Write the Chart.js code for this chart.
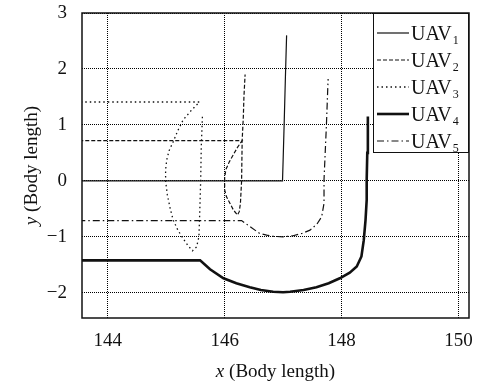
<!DOCTYPE html>
<html>
<head>
<meta charset="utf-8">
<script src="https://cdn.jsdelivr.net/npm/chart.js@4/dist/chart.umd.min.js"></script>
<style>
  html, body { margin: 0; padding: 0; background: #fff; }
  #wrap { width: 477px; height: 385px; }
</style>
</head>
<body>
<div id="wrap"><canvas id="c" width="477" height="385"></canvas></div>
<script>
// Trajectories of five UAVs (positions in body lengths)
const seriesNames = ['UAV', 'UAV', 'UAV', 'UAV', 'UAV'];
const seriesSubs = ['1', '2', '3', '4', '5'];

const uav1X = [143.0, 146.99, 147.0, 147.02, 147.04, 147.06];
const uav1Y = [0, 0, 0.35, 1.09, 1.87, 2.6];

const uav2X = [143.0, 146.30, 146.22, 146.15, 146.08, 146.02, 146.0, 146.0, 146.03, 146.09, 146.15, 146.22, 146.25, 146.27, 146.28, 146.29, 146.30, 146.32, 146.33, 146.35];
const uav2Y = [0.72, 0.72, 0.60, 0.47, 0.34, 0.20, 0.05, -0.16, -0.28, -0.40, -0.52, -0.61, -0.55, -0.40, -0.20, 0, 0.73, 1.15, 1.5, 1.9];

const uav3X = [143.0, 145.57, 145.43, 145.29, 145.20, 145.12, 145.05, 145.01, 144.99, 144.99, 145.02, 145.07, 145.12, 145.20, 145.29, 145.37, 145.45, 145.52, 145.56, 145.57, 145.59, 145.60, 145.62];
const uav3Y = [1.41, 1.41, 1.26, 1.09, 0.90, 0.70, 0.54, 0.38, 0.2, 0.0, -0.25, -0.50, -0.70, -0.88, -1.03, -1.15, -1.25, -1.18, -1.0, -0.7, 0, 0.6, 1.15];

const uav4X = [143.0, 145.58, 145.75, 145.98, 146.2, 146.43, 146.62, 146.83, 147.0, 147.12, 147.35, 147.57, 147.78, 147.97, 148.14, 148.26, 148.34, 148.38, 148.41, 148.43, 148.43, 148.44, 148.45];
const uav4Y = [-1.42, -1.42, -1.58, -1.74, -1.83, -1.90, -1.95, -1.98, -1.99, -1.98, -1.95, -1.90, -1.83, -1.74, -1.64, -1.53, -1.35, -1.06, -0.70, -0.34, 0.02, 0.5, 1.15];

const uav5X = [143.0, 146.29, 146.45, 146.60, 146.72, 146.83, 147.0, 147.17, 147.32, 147.46, 147.58, 147.66, 147.70, 147.70, 147.72, 147.74, 147.77];
const uav5Y = [-0.71, -0.71, -0.83, -0.94, -0.97, -0.99, -1.0, -0.98, -0.94, -0.88, -0.77, -0.64, -0.40, 0.02, 0.5, 0.97, 1.82];

const xTicks = [144, 146, 148, 150];
const yTicks = [-2, -1, 0, 1, 2, 3];

const INK = '#111';
const SERIF = '"Liberation Serif", "Times New Roman", serif';

function pts(xs, ys) { return xs.map((x, i) => ({ x: x, y: ys[i] })); }

const styles = [
  { width: 1.2, dash: [] },
  { width: 1.2, dash: [4, 2] },
  { width: 1.3, dash: [1.5, 3] },
  { width: 2.6, dash: [] },
  { width: 1.2, dash: [7, 3, 1.5, 3] }
];
const allX = [uav1X, uav2X, uav3X, uav4X, uav5X];
const allY = [uav1Y, uav2Y, uav3Y, uav4Y, uav5Y];

const datasets = allX.map((xs, i) => ({
  label: seriesNames[i] + seriesSubs[i],
  data: pts(xs, allY[i]),
  borderColor: INK,
  borderWidth: styles[i].width,
  borderDash: styles[i].dash,
  pointRadius: 0,
  tension: 0,
  fill: false
}));

function minusSign(v) { return String(v).replace('-', '\u2212'); }

// frame, axis titles and the boxed legend with subscripts
const decorations = {
  id: 'decorations',
  afterDatasetsDraw(chart) {
    const ctx = chart.ctx;
    const a = chart.chartArea;
    ctx.save();
    // plot frame
    ctx.strokeStyle = INK;
    ctx.lineWidth = 1.5;
    ctx.setLineDash([]);
    ctx.strokeRect(a.left, a.top, a.right - a.left, a.bottom - a.top);

    // legend box
    const lx = 373, ly = a.top, lw = a.right - 373, lh = 140;
    ctx.fillStyle = '#fff';
    ctx.fillRect(lx, ly, lw, lh);
    ctx.lineWidth = 1;
    ctx.strokeRect(lx + 0.5, ly + 0.5, lw - 1, lh - 1);
    chart.data.datasets.forEach((ds, i) => {
      const yy = ly + 20 + 27 * i;
      ctx.beginPath();
      ctx.strokeStyle = INK;
      ctx.lineWidth = ds.borderWidth;
      ctx.setLineDash(ds.borderDash);
      ctx.moveTo(377, yy);
      ctx.lineTo(409, yy);
      ctx.stroke();
      ctx.setLineDash([]);
      ctx.fillStyle = INK;
      ctx.textBaseline = 'alphabetic';
      ctx.textAlign = 'left';
      ctx.font = '20px ' + SERIF;
      ctx.fillText(seriesNames[i], 411, yy + 7);
      const w = ctx.measureText(seriesNames[i]).width;
      ctx.font = '12px ' + SERIF;
      ctx.fillText(seriesSubs[i], 411 + w + 1, yy + 11);
    });

    // x-axis title
    ctx.fillStyle = INK;
    ctx.textBaseline = 'alphabetic';
    ctx.textAlign = 'left';
    const cx = (a.left + a.right) / 2;
    ctx.font = 'italic 19px ' + SERIF;
    const wItal = ctx.measureText('x').width;
    ctx.font = '19px ' + SERIF;
    const wRest = ctx.measureText(' (Body length)').width;
    let sx = cx - (wItal + wRest) / 2;
    ctx.font = 'italic 19px ' + SERIF;
    ctx.fillText('x', sx, 377);
    ctx.font = '19px ' + SERIF;
    ctx.fillText(' (Body length)', sx + wItal, 377);

    // y-axis title
    ctx.translate(37, (a.top + a.bottom) / 2);
    ctx.rotate(-Math.PI / 2);
    ctx.font = 'italic 19px ' + SERIF;
    const wy = ctx.measureText('y').width;
    ctx.font = '19px ' + SERIF;
    const wyRest = ctx.measureText(' (Body length)').width;
    sx = -(wy + wyRest) / 2;
    ctx.font = 'italic 19px ' + SERIF;
    ctx.fillText('y', sx, 0);
    ctx.font = '19px ' + SERIF;
    ctx.fillText(' (Body length)', sx + wy, 0);
    ctx.restore();
  }
};

new Chart(document.getElementById('c'), {
  type: 'line',
  data: { datasets: datasets },
  plugins: [decorations],
  options: {
    responsive: false,
    animation: false,
    devicePixelRatio: 1,
    layout: { padding: { top: 13, right: 8, left: 0, bottom: 0 } },
    plugins: { legend: { display: false }, tooltip: { enabled: false } },
    scales: {
      x: {
        type: 'linear',
        min: 143.56,
        max: 150.18,
        afterFit: s => { s.height = 67; s.paddingLeft = 0; s.paddingRight = 0; },
        afterBuildTicks: s => { s.ticks = xTicks.map(v => ({ value: v })); },
        ticks: {
          padding: 12,
          color: INK,
          font: { family: SERIF, size: 19 },
          callback: v => minusSign(v)
        },
        grid: { color: '#000', lineWidth: 1, drawTicks: false },
        border: { display: false, dash: [1, 1] }
      },
      y: {
        type: 'linear',
        min: -2.45,
        max: 3,
        afterFit: s => { s.width = 82; s.paddingTop = 0; s.paddingBottom = 0; },
        afterBuildTicks: s => { s.ticks = yTicks.map(v => ({ value: v })); },
        ticks: {
          padding: 15,
          color: INK,
          font: { family: SERIF, size: 19 },
          callback: v => minusSign(v)
        },
        grid: { color: '#000', lineWidth: 1, drawTicks: false },
        border: { display: false, dash: [1, 1] }
      }
    }
  }
});
</script>
</body>
</html>
